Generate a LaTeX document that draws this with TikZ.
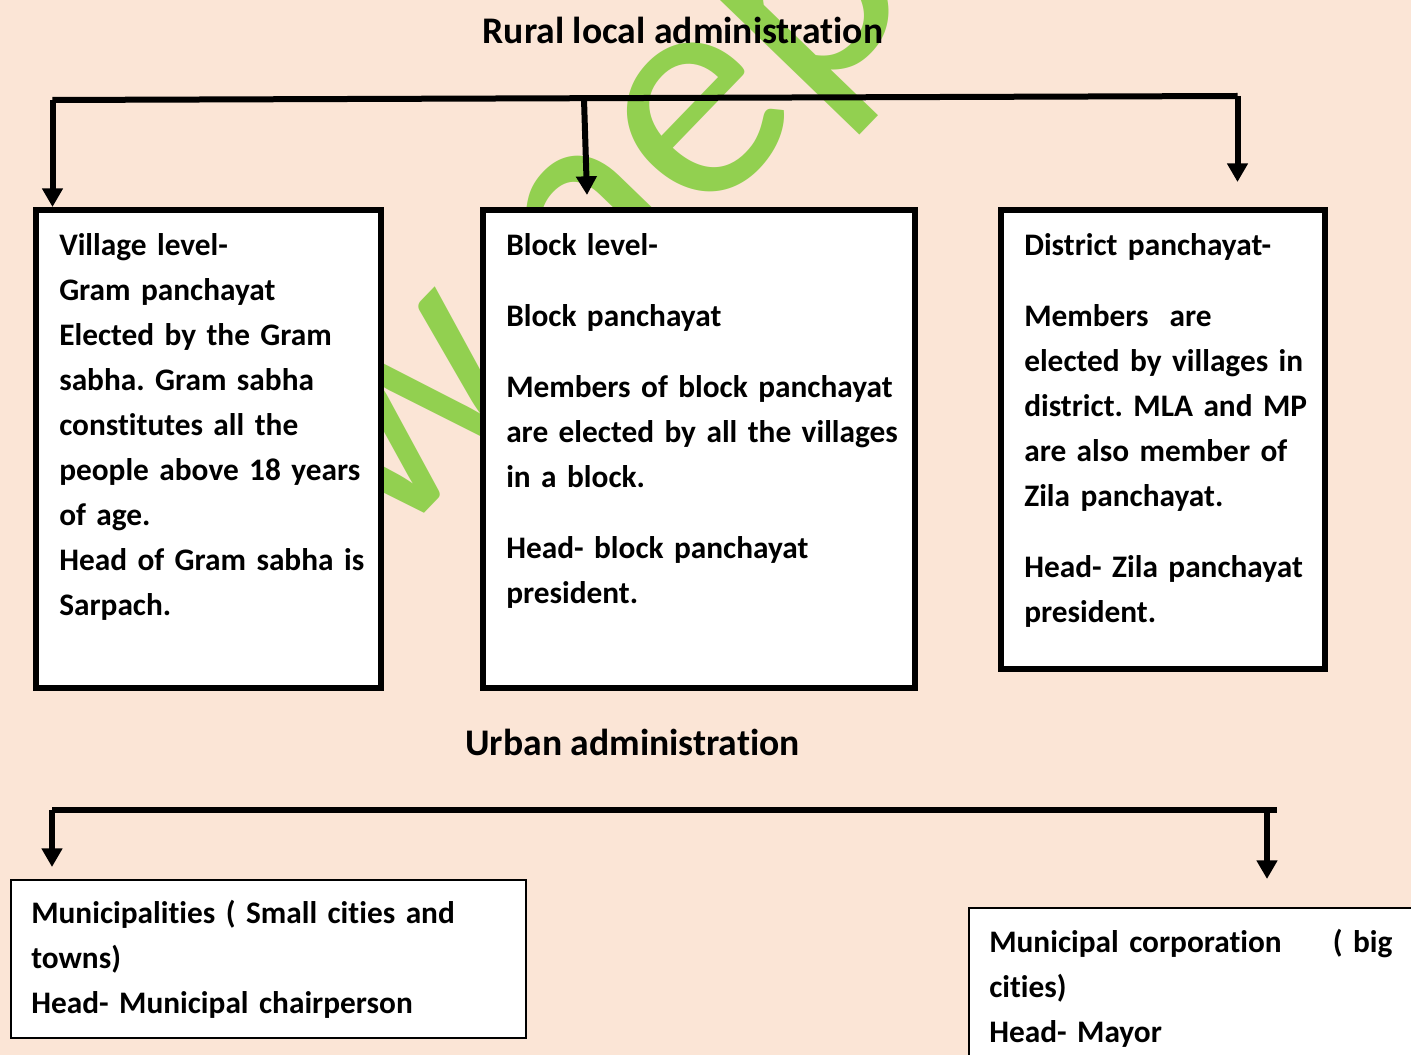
\documentclass[tikz,border=0pt]{standalone}
\usepackage{fontspec}
\setmainfont{Carlito}[Ligatures=NoCommon]
\newfontfamily\panelfont{Carlito}[Ligatures=NoCommon, WordSpace=0.75]
\usetikzlibrary{calc}
\usetikzlibrary{arrows.meta}

\definecolor{pagepeach}{HTML}{FBE5D6}
\definecolor{markgreen}{HTML}{92D050}

\tikzset{
    bus/.style={black, line width=4.5pt},
    drop/.style={black, line width=4.5pt, -{Triangle[width=15pt,length=14pt]}},
    panel/.style={draw=black, line width=4.5pt, fill=white, anchor=north west, inner sep=0pt, outer sep=0pt},
    thinpanel/.style={panel, line width=1.5pt},
    paneltext/.style={anchor=base west, inner sep=0pt, align=left, text width=#1,
        font=\panelfont\frenchspacing\bfseries\fontsize{23.5pt}{33.75pt}\selectfont},
    heading/.style={anchor=base, inner sep=0pt, font=\bfseries\fontsize{28.2pt}{34pt}\selectfont},
    watermark/.style={anchor=base west, inner sep=0pt, rotate=46, text=markgreen,
        font=\fontsize{235pt}{235pt}\selectfont}
}

\begin{document}
\begin{tikzpicture}[x=0.75pt,y=-0.75pt]
\coordinate (nw) at (0,0);
\coordinate (se) at (1411,1055);
\useasboundingbox (nw) rectangle (se);
\clip (nw) rectangle (se);
\fill[pagepeach] (nw) rectangle (se);

% green mark behind everything
\node[watermark] (mark) at (233,712) {ww.nepal};

% rural part
\coordinate (ruralL) at (52.5,100);
\coordinate (ruralM) at (584,99);
\coordinate (ruralR) at (1237.5,96);
\coordinate (villageTip) at (52.5,207);
\coordinate (blockTip) at (587,195);
\coordinate (districtTip) at (1237.5,182);

% urban part
\coordinate (urbanL) at (52,810);
\coordinate (urbanR) at (1267,810);
\coordinate (urbanEnd) at (1277,810);
\coordinate (muniTip) at (52,867);
\coordinate (corpTip) at (1267,879);

\newcommand{\busdrop}[2]{
    \draw[drop] (#1)--(#2);
}

\node[heading] (rural) at (683,44) {Rural local administration};
\node[heading] (urban) at (632.5,755) {Urban administration};

\draw[bus] (ruralL)--(ruralR);
\busdrop{ruralL}{villageTip}
\busdrop{ruralM}{blockTip}
\busdrop{ruralR}{districtTip}

\draw[bus] (urbanL)--(urbanEnd);
\busdrop{urbanL}{muniTip}
\busdrop{urbanR}{corpTip}

\node[panel, minimum width=258.4pt, minimum height=358.5pt] (village) at (36,210) {};
\node[panel, minimum width=324pt, minimum height=358.5pt] (block) at (483,210) {};
\node[panel, minimum width=243pt, minimum height=344.25pt] (district) at (1001,210) {};
\node[thinpanel, minimum width=386.25pt, minimum height=118.5pt] (muni) at (11,880) {};
\node[thinpanel, minimum width=360pt, minimum height=150pt] (corp) at (969,908) {};

\node[paneltext=300pt] (villageText) at (59,256) {Village level-\\
Gram panchayat\\
Elected by the Gram\\
sabha. Gram sabha\\
constitutes all the\\
people above 18 years\\
of age.\\
Head of Gram sabha is\\
Sarpach.};

\node[paneltext=300pt] (blockText) at (506,256) {Block level-\\[19.5pt]
Block panchayat\\[19.5pt]
Members of block panchayat\\
are elected by all the villages\\
in a block.\\[19.5pt]
Head- block panchayat\\
president.};

\node[paneltext=300pt] (districtText) at (1024,256) {District panchayat-\\[19.5pt]
Members~ are\\
elected by villages in\\
district. MLA and MP\\
are also member of\\
Zila panchayat.\\[19.5pt]
Head- Zila panchayat\\
president.};

\node[paneltext=450pt] (muniText) at (31,923) {Municipalities ( Small cities and\\
towns)\\
Head- Municipal chairperson};

\node[paneltext=302.25pt] (corpText) at (989,952) {Municipal corporation\hfill( big\\
cities)\\
Head- Mayor};
\end{tikzpicture}
\end{document}
